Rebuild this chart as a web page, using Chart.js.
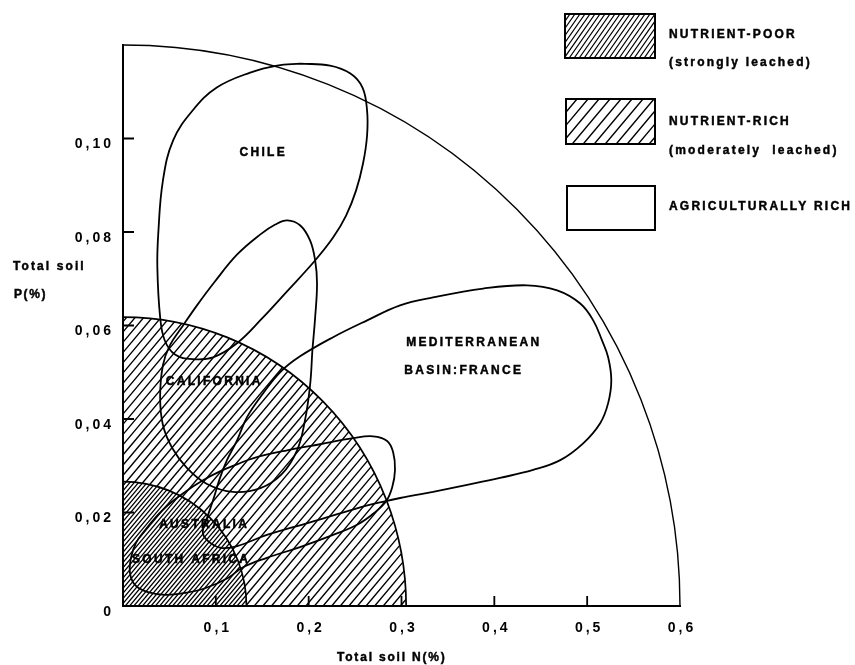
<!DOCTYPE html>
<html>
<head>
<meta charset="utf-8">
<script src="https://cdn.jsdelivr.net/npm/chart.js@4.4.1/dist/chart.umd.min.js"></script>
<style>
  html, body { margin: 0; padding: 0; background: #fff; }
  canvas { display: block; }
</style>
</head>
<body>
<canvas id="soil" width="855" height="665"></canvas>
<script>
// Total soil N (%) against total soil P (%) for Mediterranean-climate regions

// Axis ticks
const xTickValues = [0.1, 0.2, 0.3, 0.4, 0.5, 0.6];
const xTickLabels = ['0,1', '0,2', '0,3', '0,4', '0,5', '0,6'];
const yTickValues = [0, 0.02, 0.04, 0.06, 0.08, 0.10];
const yTickLabels = ['0', '0,02', '0,04', '0,06', '0,08', '0,10'];
const xTitle = 'Total soil N(%)';
const yTitle = ['Total soil', 'P(%)'];

// Fertility zones: quarter ellipses reaching zoneMaxN on the N axis and zoneMaxP on the P axis
const zoneNames = [
  ['NUTRIENT-POOR', '(strongly leached)'],
  ['NUTRIENT-RICH', '(moderately  leached)'],
  ['AGRICULTURALLY RICH']
];
const zoneMaxN = [0.133, 0.305, 0.6];
const zoneMaxP = [0.0266, 0.0618, 0.12];

// Regional envelopes (closed outlines, N %, P %)
const chileN = [0.191, 0.166, 0.137, 0.101, 0.075, 0.054, 0.043, 0.038, 0.037, 0.040, 0.045, 0.056, 0.075, 0.097,
                0.1228, 0.1498, 0.1767, 0.2069, 0.2263, 0.2403, 0.2511, 0.2586, 0.2629, 0.2629, 0.258, 0.245, 0.223];
const chileP = [0.1160, 0.1156, 0.1141, 0.1109, 0.1060, 0.0996, 0.0910, 0.0797, 0.0724, 0.0618, 0.0568, 0.0538, 0.0528, 0.0532,
                0.0562, 0.0615, 0.0673, 0.0739, 0.0788, 0.0835, 0.0889, 0.0947, 0.1006, 0.1060, 0.1109, 0.1139, 0.1156];

const californiaN = [0.204, 0.2015, 0.196, 0.1875, 0.171, 0.148, 0.1185, 0.0905, 0.069, 0.053, 0.043, 0.040, 0.043,
                     0.0506, 0.0647, 0.0797, 0.099, 0.123, 0.148, 0.164, 0.177, 0.191, 0.2015, 0.207, 0.209, 0.207];
const californiaP = [0.0547, 0.0472, 0.0397, 0.0333, 0.0282, 0.0252, 0.0244, 0.0261, 0.0295, 0.0338, 0.0387, 0.0447, 0.0515,
                     0.0558, 0.0600, 0.0643, 0.0694, 0.0752, 0.0795, 0.0816, 0.0825, 0.0814, 0.0782, 0.0739, 0.0690, 0.0618];

const franceN = [0.334, 0.2985, 0.282, 0.252, 0.2015, 0.155, 0.123, 0.1067, 0.094, 0.086, 0.0905, 0.097, 0.1045, 0.112,
                 0.123, 0.1336, 0.151, 0.1692, 0.1907, 0.2263, 0.263, 0.2985, 0.334, 0.388, 0.4353, 0.4677, 0.4925,
                 0.5065, 0.516, 0.5226, 0.526, 0.5226, 0.514, 0.4957, 0.471, 0.4418, 0.406, 0.3707];
const franceP = [0.0244, 0.0231, 0.0224, 0.0209, 0.0179, 0.0152, 0.0128, 0.0124, 0.0135, 0.0156, 0.0188, 0.0226, 0.0274, 0.0312,
                 0.0355, 0.0404, 0.0455, 0.0500, 0.0534, 0.0575, 0.0611, 0.0643, 0.0660, 0.0679, 0.0686, 0.0675, 0.0647,
                 0.0611, 0.0568, 0.0532, 0.0483, 0.0434, 0.0391, 0.0348, 0.0312, 0.0291, 0.0274, 0.0259];

const australiaAfricaN = [0.2123, 0.2478, 0.2694, 0.2845, 0.291, 0.293, 0.290, 0.2834, 0.2705, 0.2532, 0.2263, 0.1907,
                          0.155, 0.1293, 0.1131, 0.0884, 0.0668, 0.0453, 0.0259, 0.0129, 0.0075, 0.0086, 0.014, 0.0237,
                          0.0345, 0.0485, 0.0668, 0.0862, 0.1045, 0.1228, 0.140, 0.1767];
const australiaAfricaP = [0.0346, 0.0359, 0.0363, 0.0353, 0.0329, 0.0291, 0.0254, 0.0224, 0.0199, 0.0175, 0.0152, 0.0126,
                          0.0103, 0.0083, 0.0060, 0.0038, 0.0028, 0.0024, 0.0030, 0.0045, 0.0071, 0.0103, 0.0135, 0.0162,
                          0.0188, 0.0216, 0.0244, 0.0269, 0.0288, 0.0303, 0.0316, 0.0333];

// Region names and where they sit (N %, P %)
const regionLabels = ['CHILE', 'CALIFORNIA', 'MEDITERRANEAN', 'BASIN:FRANCE', 'AUSTRALIA', 'SOUTH AFRICA'];
const regionLabelN = [0.1498, 0.0970, 0.305, 0.303, 0.0862, 0.0722];
const regionLabelP = [0.0970, 0.0479, 0.0564, 0.0504, 0.0173, 0.0100];
const regionLabelAlign = ['center', 'center', 'left', 'left', 'center', 'center'];

const FONT = '"Liberation Sans", Arial, Helvetica, sans-serif';

function closedOutline(ns, ps) {
  const pts = ns.map((n, i) => ({ x: n, y: ps[i] }));
  pts.push({ x: ns[0], y: ps[0] });
  return pts;
}

function drawText(ctx, str, x, y, align, spacing, size) {
  ctx.font = 'bold ' + (size || 12) + 'px ' + FONT;
  ctx.letterSpacing = spacing + 'px';
  ctx.textAlign = 'left';
  ctx.textBaseline = 'middle';
  ctx.fillStyle = '#000';
  ctx.strokeStyle = '#000';
  ctx.lineWidth = 0.45;
  const w = ctx.measureText(str).width - spacing;
  const sx = align === 'center' ? x - w / 2 : (align === 'right' ? x - w : x);
  ctx.fillText(str, sx, y);
  ctx.strokeText(str, sx, y);
}

// Parallel diagonal strokes across a rectangle (used inside a clip)
function hatch(ctx, left, top, right, bottom, spacing, angleDeg, width) {
  const dx = (bottom - top) / Math.tan(angleDeg * Math.PI / 180);
  ctx.lineWidth = width;
  ctx.strokeStyle = '#000';
  ctx.beginPath();
  for (let x = left - dx; x <= right + spacing; x += spacing) {
    ctx.moveTo(x, bottom);
    ctx.lineTo(x + dx, top);
  }
  ctx.stroke();
}

function zoneGeometry(xs, ys, i) {
  const cx = xs.getPixelForValue(0), cy = ys.getPixelForValue(0);
  return { cx, cy, rx: xs.getPixelForValue(zoneMaxN[i]) - cx, ry: cy - ys.getPixelForValue(zoneMaxP[i]) };
}

function quarterPath(ctx, xs, ys, i) {
  const g = zoneGeometry(xs, ys, i);
  ctx.moveTo(g.cx, g.cy);
  ctx.ellipse(g.cx, g.cy, g.rx, g.ry, 0, -Math.PI / 2, 0);
  ctx.closePath();
}

const zonesPlugin = {
  id: 'zones',
  beforeDraw(chart) {
    // spacing used by the axis tick labels
    chart.ctx.letterSpacing = '3px';
  },
  beforeDatasetsDraw(chart) {
    const { ctx, chartArea: a, scales: { x, y } } = chart;
    // moderately leached band
    ctx.save();
    ctx.beginPath();
    quarterPath(ctx, x, y, 1);
    quarterPath(ctx, x, y, 0);
    ctx.clip('evenodd');
    hatch(ctx, a.left, a.top, a.right, a.bottom, 8.6, 50, 1.4);
    ctx.restore();
    // strongly leached core
    ctx.save();
    ctx.beginPath();
    quarterPath(ctx, x, y, 0);
    ctx.clip();
    hatch(ctx, a.left, a.top, a.right, a.bottom, 4.3, 50, 1.25);
    ctx.restore();
    // zone boundaries
    ctx.save();
    ctx.strokeStyle = '#000';
    for (let i = 0; i < zoneMaxN.length; i++) {
      const g = zoneGeometry(x, y, i);
      ctx.lineWidth = i === 2 ? 1.4 : 1.7;
      ctx.beginPath();
      ctx.ellipse(g.cx, g.cy, g.rx, g.ry, 0, -Math.PI / 2, 0);
      ctx.stroke();
    }
    ctx.restore();
  },
  afterDatasetsDraw(chart) {
    const { ctx, scales: { x, y } } = chart;
    ctx.save();
    // inward tick marks
    ctx.strokeStyle = '#000';
    ctx.lineWidth = 1.8;
    ctx.beginPath();
    yTickValues.slice(1).forEach(v => {
      const py = y.getPixelForValue(v);
      ctx.moveTo(x.left, py);
      ctx.lineTo(x.left + 11, py);
    });
    xTickValues.slice(0, -1).forEach(v => {
      const px = x.getPixelForValue(v);
      ctx.moveTo(px, y.bottom);
      ctx.lineTo(px, y.bottom - 10);
    });
    ctx.stroke();
    // region names
    regionLabels.forEach((t, i) => {
      drawText(ctx, t, x.getPixelForValue(regionLabelN[i]), y.getPixelForValue(regionLabelP[i]),
               regionLabelAlign[i], 2.3, 12);
    });
    ctx.restore();
  },
  afterDraw(chart) {
    const { ctx } = chart;
    ctx.save();
    // legend
    const boxes = [[565, 14, 90, 44], [566, 99, 89, 45], [567, 186, 88, 44]];
    const boxHatch = [[5, 55, 1.2], [11, 50, 1.4], null];
    const textRows = [[35, 63], [122, 151], [207]];
    boxes.forEach((b, i) => {
      const [bx, by, bw, bh] = b;
      if (boxHatch[i]) {
        ctx.save();
        ctx.beginPath();
        ctx.rect(bx, by, bw, bh);
        ctx.clip();
        hatch(ctx, bx, by, bx + bw, by + bh, boxHatch[i][0], boxHatch[i][1], boxHatch[i][2]);
        ctx.restore();
      }
      ctx.lineWidth = 2;
      ctx.strokeStyle = '#000';
      ctx.strokeRect(bx, by, bw, bh);
      zoneNames[i].forEach((t, k) => drawText(ctx, t, 669, textRows[i][k], 'left', 2.2, 12));
    });
    // axis titles
    drawText(ctx, yTitle[0], 13, 267, 'left', 2.1, 12);
    drawText(ctx, yTitle[1], 14, 295, 'left', 1.6, 12);
    drawText(ctx, xTitle, 337, 658, 'left', 1.8, 12);
    ctx.restore();
  }
};

const lineStyle = {
  showLine: true, pointRadius: 0, borderColor: '#000', borderWidth: 1.8,
  tension: 0.4, fill: false, borderCapStyle: 'round', borderJoinStyle: 'round'
};

const tickFont = { family: FONT, size: 14, weight: 'bold' };

new Chart(document.getElementById('soil'), {
  type: 'scatter',
  data: {
    datasets: [
      Object.assign({ label: 'Chile', data: closedOutline(chileN, chileP) }, lineStyle),
      Object.assign({ label: 'California', data: closedOutline(californiaN, californiaP) }, lineStyle),
      Object.assign({ label: 'Mediterranean basin: France', data: closedOutline(franceN, franceP) }, lineStyle),
      Object.assign({ label: 'Australia / South Africa', data: closedOutline(australiaAfricaN, australiaAfricaP) }, lineStyle)
    ]
  },
  options: {
    responsive: false,
    animation: false,
    devicePixelRatio: 1,
    layout: { padding: { left: 0, top: 45, right: 175, bottom: 0 } },
    plugins: { legend: { display: false }, tooltip: { enabled: false } },
    scales: {
      x: {
        type: 'linear', min: 0, max: 0.6,
        afterFit(s) { s.height = 59; },
        afterBuildTicks(s) { s.ticks = xTickValues.map(v => ({ value: v })); },
        grid: { display: false, drawTicks: false },
        border: { display: true, color: '#000', width: 2 },
        ticks: {
          color: '#000', font: tickFont, padding: 14, labelOffset: 2,
          maxRotation: 0, autoSkip: false,
          callback: (v, i) => xTickLabels[i]
        }
      },
      y: {
        type: 'linear', min: 0, max: 0.12,
        afterFit(s) { s.width = 123; },
        afterBuildTicks(s) { s.ticks = yTickValues.map(v => ({ value: v })); },
        grid: { display: false, drawTicks: false },
        border: { display: true, color: '#000', width: 2 },
        ticks: {
          color: '#000', font: tickFont, padding: 9, labelOffset: 6,
          autoSkip: false,
          callback: (v, i) => yTickLabels[i]
        }
      }
    }
  },
  plugins: [zonesPlugin]
});
</script>
</body>
</html>
